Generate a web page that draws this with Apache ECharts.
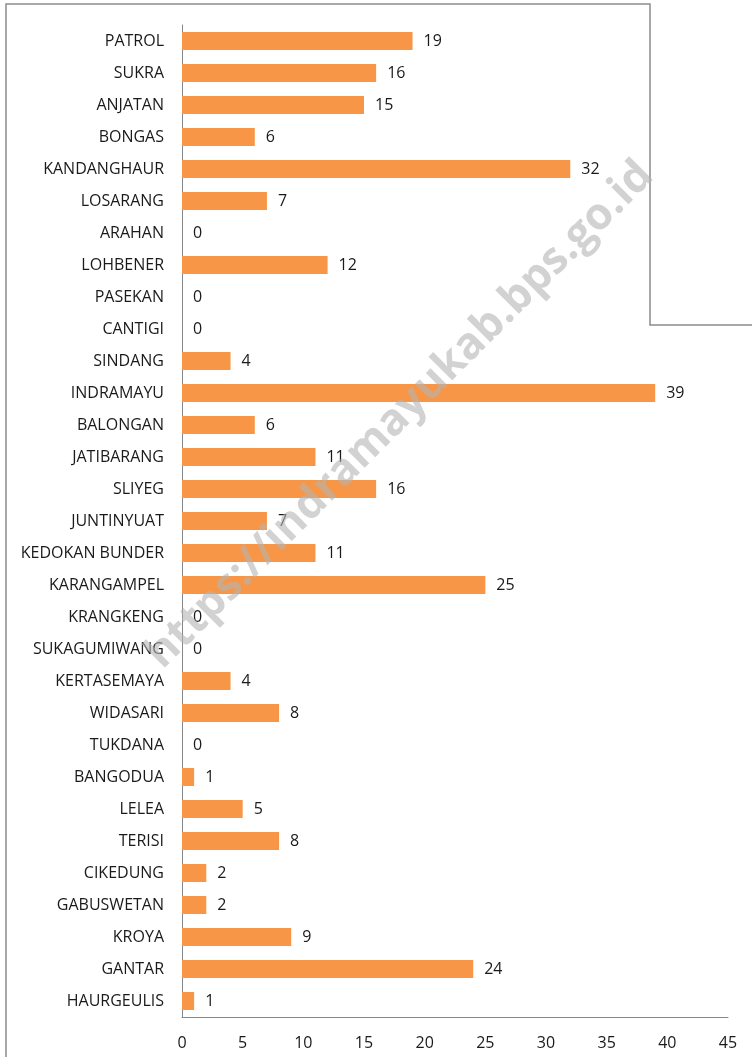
<!DOCTYPE html>
<html><head><meta charset="utf-8">
<script src="https://cdn.jsdelivr.net/npm/echarts@6/dist/echarts.min.js"></script>
<style>html,body{margin:0;padding:0;background:#fff}#c{width:752px;height:1057px}</style>
</head><body><div id="c"></div>
<script>
const categories = ["PATROL","SUKRA","ANJATAN","BONGAS","KANDANGHAUR","LOSARANG","ARAHAN","LOHBENER","PASEKAN","CANTIGI","SINDANG","INDRAMAYU","BALONGAN","JATIBARANG","SLIYEG","JUNTINYUAT","KEDOKAN BUNDER","KARANGAMPEL","KRANGKENG","SUKAGUMIWANG","KERTASEMAYA","WIDASARI","TUKDANA","BANGODUA","LELEA","TERISI","CIKEDUNG","GABUSWETAN","KROYA","GANTAR","HAURGEULIS"];
const values = [19,16,15,6,32,7,0,12,0,0,4,39,6,11,16,7,11,25,0,0,4,8,0,1,5,8,2,2,9,24,1];
const xTicks = {min:0, max:45, interval:5};
const watermark = "https://indramayukab.bps.go.id";

const chart = echarts.init(document.getElementById('c'), null, {renderer:'canvas'});
const font = '"Open Sans", "Noto Sans", sans-serif';
chart.setOption({
  animation:false,
  grid:{left:182,right:24,top:25,bottom:40,containLabel:false},
  xAxis:{type:'value',min:xTicks.min,max:xTicks.max,interval:xTicks.interval,
    axisLine:{show:true,lineStyle:{color:'#868686',width:1}},
    axisTick:{show:false},splitLine:{show:false},
    axisLabel:{color:'#1a1a1a',fontSize:16,fontFamily:font,margin:18}},
  yAxis:{type:'category',data:categories,inverse:true,
    axisLine:{show:true,lineStyle:{color:'#868686',width:1}},
    axisTick:{show:false},
    axisLabel:{color:'#1a1a1a',fontSize:16,fontFamily:font,margin:18,interval:0}},
  series:[{type:'bar',data:values,barWidth:18,
    itemStyle:{color:'#F79646'},
    label:{show:true,position:'right',distance:11,color:'#1a1a1a',fontSize:16,fontFamily:font}}],
  graphic:[
    {type:'polyline',shape:{points:[[6,1057],[6,4],[650,4],[650,325],[752,325]]},
      style:{stroke:'#8c8c8c',lineWidth:1.5,fill:null},z:0},
    {type:'text',x:400,y:415,rotation:Math.PI/4,
      style:{text:watermark,font:'bold 44px "Open Sans", "Noto Sans", sans-serif',
        fill:'rgba(180,180,180,0.6)',align:'center',verticalAlign:'middle'},z:100}
  ]
});
</script></body></html>
